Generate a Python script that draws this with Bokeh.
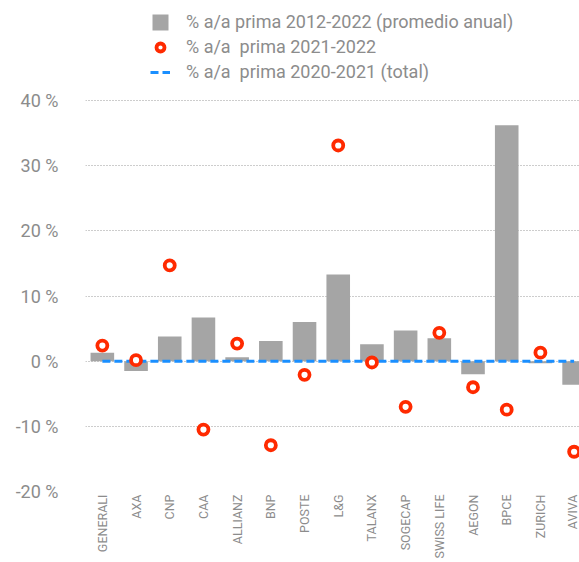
from bokeh.plotting import figure
from bokeh.models import Range1d, FixedTicker, Legend, LegendItem, ColumnDataSource
from bokeh.embed import file_html
from bokeh.resources import INLINE
import math

companies = ["GENERALI", "AXA", "CNP", "CAA", "ALLIANZ", "BNP", "POSTE", "L&G",
             "TALANX", "SOGECAP", "SWISS LIFE", "AEGON", "BPCE", "ZURICH", "AVIVA"]
avg_2012_2022 = [1.3, -1.5, 3.8, 6.7, 0.6, 3.1, 6.0, 13.3, 2.6, 4.7, 3.5, -2.0, 36.2, -0.3, -3.6]
yoy_2021_2022 = [2.4, 0.15, 14.7, -10.5, 2.7, -12.9, -2.1, 33.1, -0.2, -7.0, 4.35, -4.0, -7.45, 1.3, -13.9]
total_2020_2021 = [0.0] * len(companies)
y_ticks = [-20, -10, 0, 10, 20, 30, 40]
y_tick_labels = ["-20 %", "-10 %", "0 %", "10 %", "20 %", "30 %", "40 %"]
legend_labels = ["% a/a prima 2012-2022 (promedio anual)",
                 "% a/a  prima 2021-2022",
                 "% a/a  prima 2020-2021 (total)"]

xs = list(range(len(companies)))
src = ColumnDataSource(dict(x=xs, bar=avg_2012_2022, dot=yoy_2021_2022, tot=total_2020_2021))

FONT = "Roboto"
GREY_TXT = "#8c8c8c"

# frame spans the full height above the axis; the top part holds the legend
p = figure(width=579, height=562, output_backend="svg", toolbar_location=None,
           x_range=Range1d(-0.5, 14.16), y_range=Range1d(-20, 55.35),
           min_border_left=85, min_border_right=0, min_border_top=0, min_border_bottom=71)
p.outline_line_color = None
p.background_fill_color = "white"
p.border_fill_color = "white"

bars = p.vbar(x="x", top="bar", width=0.7, bottom=0, source=src,
              fill_color="#a5a5a5", line_color=None)
line = p.line(x="x", y="tot", source=src, line_color="#1a8fff", line_width=3, line_dash="8 4")
dots = p.scatter(x="x", y="dot", source=src, marker="circle", size=10,
                 fill_color="white", line_color="#ff2a00", line_width=3.8)

# axes
p.xaxis.ticker = FixedTicker(ticks=xs)
p.xaxis.major_label_overrides = {i: c for i, c in enumerate(companies)}
p.xaxis.major_label_orientation = math.pi / 2
p.xaxis.axis_line_color = None
p.xaxis.major_tick_line_color = None
p.xaxis.minor_tick_line_color = None
p.xaxis.major_tick_out = 0
p.xaxis.major_tick_in = 0
p.xaxis.major_label_text_font = FONT
p.xaxis.major_label_text_font_size = "12.5px"
p.xaxis.major_label_text_color = GREY_TXT
p.xaxis.major_label_standoff = 3

p.yaxis.ticker = FixedTicker(ticks=y_ticks)
p.yaxis.major_label_overrides = {t: l for t, l in zip(y_ticks, y_tick_labels)}
p.yaxis.axis_line_color = None
p.yaxis.major_tick_line_color = None
p.yaxis.minor_tick_line_color = None
p.yaxis.major_tick_out = 0
p.yaxis.major_tick_in = 0
p.yaxis.major_label_text_font = FONT
p.yaxis.major_label_text_font_size = "18px"
p.yaxis.major_label_text_color = GREY_TXT
p.yaxis.major_label_standoff = 27

p.xgrid.grid_line_color = None
p.ygrid.ticker = FixedTicker(ticks=[-10, 0, 10, 20, 30, 40])
p.ygrid.grid_line_color = "#9a9a9a"
p.ygrid.grid_line_dash = "1 2"
p.ygrid.grid_line_width = 1

legend = Legend(items=[LegendItem(label=legend_labels[0], renderers=[bars]),
                       LegendItem(label=legend_labels[1], renderers=[dots]),
                       LegendItem(label=legend_labels[2], renderers=[line])],
                location=(65, 409), orientation="vertical")
legend.label_text_font = FONT
legend.label_text_font_size = "18px"
legend.label_text_color = GREY_TXT
legend.label_height = 20
legend.glyph_height = 20
legend.glyph_width = 20
legend.spacing = 4
legend.padding = 2
legend.margin = 0
legend.label_standoff = 16
legend.border_line_color = None
legend.background_fill_alpha = 0
p.add_layout(legend, "center")

open("out.html", "w").write(file_html(p, INLINE))
